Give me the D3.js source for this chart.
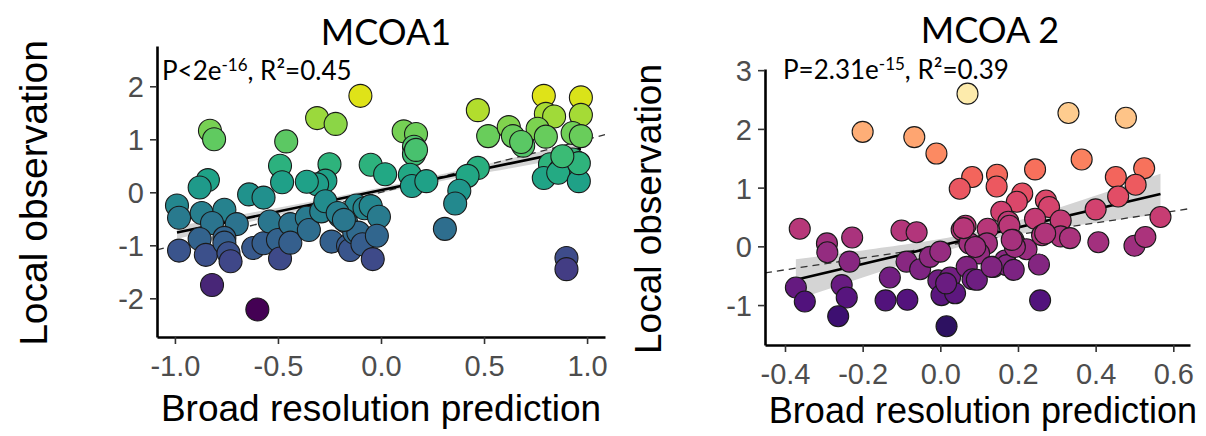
<!DOCTYPE html>
<html>
<head>
<meta charset="utf-8">
<title>MCOA local vs broad</title>
<script src="https://cdn.jsdelivr.net/npm/d3@7"></script>
<style>
  body { margin: 0; background: #fff; }
  .tick text { font-family: "Liberation Sans", Arial, sans-serif; fill: #4d4d4d; }
</style>
</head>
<body>
<svg id="chart" width="1206" height="436"></svg>
<script>
// ---- data ----
var titles = ["MCOA1", "MCOA 2"];
var xLabel = "Broad resolution prediction";
var yLabel = "Local observation";

// MCOA1: broad prediction (x) vs local observation (y)
var mcoa1X = [-0.10, 0.79, 0.97, 0.47, -0.31, -0.22, 0.80, 0.84, 0.97, -0.83, -0.81, -0.46,
  0.11, 0.17, 0.16, 0.16, 0.17, 0.52, 0.62, 0.64, 0.69, 0.76, 0.80, 0.93, 0.97, 0.68,
  -0.49, -0.48, -0.25, -0.27, -0.31, -0.36, -0.05, 0.02, 0.14, 0.15, 0.22, 0.47, 0.42,
  0.38, 0.36, 0.31, 0.82, 0.87, 0.93, 0.79, 0.86, 0.96, 0.96, 0.88,
  -0.84, -0.88, -0.64, -0.57, -0.99, -0.98, -0.87, -0.76, -0.70, -0.82, -0.88, -0.76,
  -0.98, -0.85, -0.76, -0.74, -0.73, -0.62, -0.57, -0.54, -0.50, -0.49, -0.44, -0.44,
  -0.36, -0.35, -0.29, -0.27, -0.24, -0.20, -0.17, -0.16, -0.15, -0.13, -0.12, -0.08, -0.21,
  -0.05, -0.11, -0.01, -0.09, -0.04, -0.02, -0.18, -0.82, -0.60, 0.90, 0.90];
var mcoa1Y = [1.82, 1.82, 1.79, 1.55, 1.40, 1.29, 1.48, 1.43, 1.46, 1.16, 1.00, 0.96,
  1.15, 1.10, 0.86, 0.72, 0.80, 1.06, 1.23, 1.06, 0.88, 1.20, 1.05, 1.12, 1.06, 0.95,
  0.50, 0.19, 0.53, 0.22, 0.15, 0.20, 0.52, 0.34, 0.33, 0.12, 0.21, 0.46, 0.31,
  0.03, -0.21, -0.69, 0.53, 0.42, 0.62, 0.27, 0.37, 0.21, 0.55, 0.68,
  0.23, 0.09, -0.04, -0.10, -0.25, -0.48, -0.39, -0.33, -0.60, -0.58, -0.88, -0.86,
  -1.10, -1.18, -0.95, -1.15, -1.30, -1.05, -0.96, -0.55, -0.90, -1.25, -0.60, -0.95,
  -0.48, -0.71, -0.36, -0.17, -0.93, -0.45, -0.55, -1.01, -1.09, -0.76, -0.25, -0.30, -0.39,
  -0.26, -0.76, -0.46, -0.98, -1.26, -0.82, -0.52, -1.75, -2.21, -1.24, -1.45];

// MCOA 2
var mcoa2X = [0.07, 0.33, 0.478, -0.20, -0.067, -0.01, 0.364, 0.082, 0.05, 0.146, 0.145,
  0.244, 0.525, 0.452, 0.503, 0.458, 0.211, 0.197, 0.272, 0.28, 0.40, 0.31, 0.244, 0.157,
  0.175, 0.567, -0.362, -0.292, -0.291, -0.227, -0.234, -0.10, -0.061, 0.055, 0.065, 0.122,
  0.178, 0.188, 0.195, 0.222, 0.262, 0.31, 0.334, 0.407, 0.50, 0.528, 0.075, 0.12, 0.10,
  -0.372, -0.349, -0.254, -0.241, -0.263, -0.141, -0.13, -0.085, -0.087, -0.052, -0.027,
  0.0, -0.005, 0.003, 0.025, 0.038, 0.068, 0.083, 0.137, 0.167, 0.171, 0.189, 0.192,
  0.254, 0.016, 0.257, 0.015, 0.094, 0.09, 0.06, 0.132, 0.27, 0.184];
var mcoa2Y = [2.60, 2.27, 2.19, 1.95, 1.86, 1.58, 1.48, 1.18, 0.98, 1.22, 1.02,
  1.31, 1.33, 1.18, 1.05, 0.85, 0.90, 0.76, 0.78, 0.67, 0.63, 0.44, 0.47, 0.59,
  0.42, 0.50, 0.30, 0.05, -0.10, 0.15, -0.26, 0.27, 0.24, 0.28, 0.35, 0.30,
  0.35, 0.11, 0.02, -0.05, 0.19, 0.17, 0.14, 0.07, 0.01, 0.16, 0.05, 0.05, -0.12,
  -0.70, -0.94, -0.66, -0.87, -1.19, -0.92, -0.53, -0.91, -0.26, -0.39, -0.18,
  -0.09, -0.58, -0.83, -0.53, -0.80, -0.35, -0.56, -0.35, -0.24, -0.32, -0.40, -0.01,
  -0.31, -1.36, -0.92, -0.63, -0.57, -0.01, 0.31, -0.35, 0.22, 0.11];

var xTicks1 = [-1.0, -0.5, 0.0, 0.5, 1.0];
var yTicks1 = [-2, -1, 0, 1, 2];
var xTicks2 = [-0.4, -0.2, 0.0, 0.2, 0.4, 0.6];
var yTicks2 = [-1, 0, 1, 2, 3];

// linear fit [intercept, slope] and its 95% band [half-width at centre, spread, centre x]
var fit1 = [0.04, 0.806];
var band1 = [0.05, 0.115, -0.05];
var fit2 = [0.011, 1.555];
var band2 = [0.09, 0.71, 0.10];

var stats1 = ["P<2e", "-16", ", R²=0.45"];
var stats2 = ["P=2.31e", "-15", ", R²=0.39"];

var svg = d3.select("#chart");

function drawPanel(p) {
  var x = d3.scaleLinear().domain(p.xDom).range([p.left, p.right]);
  var y = d3.scaleLinear().domain(p.yDom).range([p.bottom, p.top]);
  var g = svg.append("g");

  var pts = p.xs.map(function(v, i) { return {x: v, y: p.ys[i]}; });
  var yExt = d3.extent(p.ys);
  var col = d3.scaleLinear().domain(yExt).range(p.tRange);

  var fx = function(v) { return p.fit[0] + p.fit[1] * v; };
  var hw = function(v) {
    var d = v - p.band[2];
    return Math.sqrt(p.band[0] * p.band[0] + p.band[1] * p.band[1] * d * d);
  };
  var xr = d3.extent(p.xs);
  var samp = d3.range(0, 61).map(function(i) { return xr[0] + (xr[1] - xr[0]) * i / 60; });

  g.append("path")
    .datum(samp)
    .attr("d", d3.area()
      .x(function(d) { return x(d); })
      .y0(function(d) { return y(fx(d) - hw(d)); })
      .y1(function(d) { return y(fx(d) + hw(d)); }))
    .attr("fill", "#d4d4d4");

  // 1:1 reference
  g.append("line")
    .attr("x1", x(p.xDom[0])).attr("y1", y(p.xDom[0]))
    .attr("x2", x(p.xDom[1])).attr("y2", y(p.xDom[1]))
    .attr("stroke", "#333").attr("stroke-width", 1.3)
    .attr("stroke-dasharray", "7,5");

  g.append("line")
    .attr("x1", x(xr[0])).attr("y1", y(fx(xr[0])))
    .attr("x2", x(xr[1])).attr("y2", y(fx(xr[1])))
    .attr("stroke", "#000").attr("stroke-width", 2.6);

  g.selectAll("circle")
    .data(pts)
    .enter().append("circle")
    .attr("cx", function(d) { return x(d.x); })
    .attr("cy", function(d) { return y(d.y); })
    .attr("r", p.r)
    .attr("fill", function(d) { return p.interp(col(d.y)); })
    .attr("stroke", "#1a1a1a")
    .attr("stroke-width", 1.1);

  var xAxis = d3.axisBottom(x).tickValues(p.xTicks).tickSize(7).tickSizeOuter(0)
    .tickPadding(7).tickFormat(function(d) { return d.toFixed(1); });
  var yAxis = d3.axisLeft(y).tickValues(p.yTicks).tickSize(7).tickSizeOuter(0)
    .tickPadding(6).tickFormat(function(d) { return String(d); });

  var gx = g.append("g").attr("transform", "translate(0," + p.bottom + ")").call(xAxis);
  var gy = g.append("g").attr("transform", "translate(" + p.left + ",0)").call(yAxis);
  [gx, gy].forEach(function(a) {
    a.select(".domain").attr("stroke", "#000").attr("stroke-width", 2.6);
    a.selectAll(".tick line").attr("stroke", "#333").attr("stroke-width", 1.6);
    a.selectAll(".tick text").style("font-size", p.tickSize + "px");
  });
  gx.selectAll(".tick text").attr("dy", "0.85em");
  gy.selectAll(".tick text").attr("dy", "0.36em");

  svg.append("text")
    .attr("x", p.titleX).attr("y", p.titleY)
    .attr("text-anchor", "middle")
    .style("font-family", "Lato, 'Open Sans', sans-serif")
    .style("font-size", "36px")
    .text(p.title);

  var st = svg.append("text")
    .attr("x", p.statX).attr("y", p.statY)
    .style("font-family", "Lato, 'Open Sans', sans-serif")
    .style("font-size", "26px");
  st.append("tspan").text(p.stats[0]);
  st.append("tspan").attr("dy", -9).style("font-size", "17px").text(p.stats[1]);
  st.append("tspan").attr("dy", 9).text(p.stats[2]);

  svg.append("text")
    .attr("x", p.xlabX).attr("y", p.xlabY)
    .attr("text-anchor", "middle")
    .style("font-family", "'Liberation Sans', Arial, sans-serif")
    .style("font-size", p.labSize + "px")
    .text(xLabel);

  svg.append("text")
    .attr("transform", "translate(" + p.ylabX + "," + p.ylabY + ") rotate(-90)")
    .attr("text-anchor", "middle")
    .style("font-family", "'Liberation Sans', Arial, sans-serif")
    .style("font-size", p.ylabSize + "px")
    .text(yLabel);
}

drawPanel({
  xs: mcoa1X, ys: mcoa1Y, xTicks: xTicks1, yTicks: yTicks1,
  xDom: [-1.087, 1.087], yDom: [-2.73, 2.76],
  left: 157, right: 605, top: 46, bottom: 337,
  fit: fit1, band: band1, r: 11.5,
  interp: d3.interpolateViridis, tRange: [0, 0.95],
  title: titles[0], titleX: 386, titleY: 45,
  stats: stats1, statX: 162, statY: 80,
  xlabX: 381, xlabY: 421, ylabX: 47, ylabY: 193,
  tickSize: 29, labSize: 37, ylabSize: 39
});

drawPanel({
  xs: mcoa2X, ys: mcoa2Y, xTicks: xTicks2, yTicks: yTicks2,
  xDom: [-0.4515, 0.643], yDom: [-1.68, 3.02],
  left: 765, right: 1190, top: 69, bottom: 345,
  fit: fit2, band: band2, r: 10.5,
  interp: d3.interpolateMagma, tRange: [0.17, 0.96],
  title: titles[1], titleX: 990, titleY: 43,
  stats: stats2, statX: 783, statY: 79,
  xlabX: 983, xlabY: 423, ylabX: 661, ylabY: 209,
  tickSize: 29, labSize: 36, ylabSize: 37
});
</script>
</body>
</html>
